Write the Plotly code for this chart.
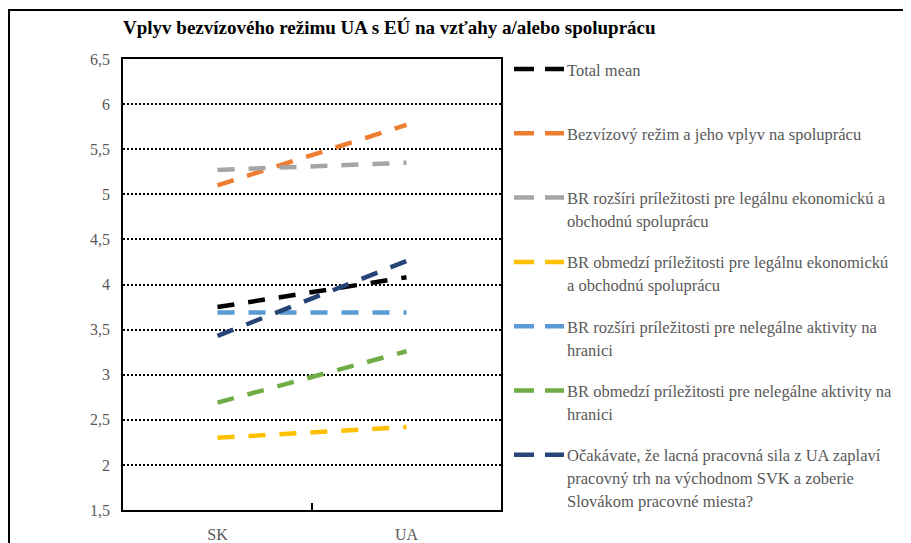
import plotly.graph_objects as go

categories = ["SK", "UA"]
legend_lines = [
    ["Total mean"],
    ["Bezvízový režim a jeho vplyv na spoluprácu"],
    ["BR rozšíri príležitosti pre legálnu ekonomickú a", "obchodnú spoluprácu"],
    ["BR obmedzí príležitosti pre legálnu ekonomickú", "a obchodnú spoluprácu"],
    ["BR rozšíri príležitosti pre nelegálne aktivity na", "hranici"],
    ["BR obmedzí príležitosti pre nelegálne aktivity na", "hranici"],
    ["Očakávate, že lacná pracovná sila z UA zaplaví", "pracovný trh na východnom SVK a zoberie",
     "Slovákom pracovné miesta?"],
]
total_mean = [3.75, 4.08]
bezvizovy = [5.10, 5.77]
rozsiri_legal = [5.27, 5.35]
obmedzi_legal = [2.30, 2.42]
rozsiri_nelegal = [3.69, 3.69]
obmedzi_nelegal = [2.69, 3.26]
lacna_sila = [3.43, 4.26]
series_values = [total_mean, bezvizovy, rozsiri_legal, obmedzi_legal,
                 rozsiri_nelegal, obmedzi_nelegal, lacna_sila]
colors = ["#000000", "#ED7D31", "#A5A5A5", "#FFC000", "#5B9BD5", "#70AD47", "#264478"]
y_ticks = [1.5, 2, 2.5, 3, 3.5, 4, 4.5, 5, 5.5, 6, 6.5]

FONT = "'Liberation Serif', 'Times New Roman', 'DejaVu Serif', serif"
GRAY = "#595959"
DASH = "17px,14px"

# page is drawn with an 8px body margin; work in reference-screen pixels
OFF = 8
W, H = 911 - OFF, 543 - OFF
L, R, T, B = 123, 501, 59, 510          # plot area in reference pixels
pw, ph = R - L, B - T

def px_x(x):
    return (x - L) / pw

def px_y(y):
    return (B - y) / ph

fig = go.Figure()
for lines, vals, col in zip(legend_lines, series_values, colors):
    fig.add_trace(go.Scatter(
        x=categories, y=vals, name=" ".join(lines), mode="lines",
        line=dict(color=col, width=4.5, dash=DASH),
        showlegend=False,
    ))

shapes = []
annotations = []
# outer chart frame
shapes.append(dict(type="rect", xref="paper", yref="paper",
                   x0=px_x(OFF + 1), x1=px_x(960), y0=px_y(600), y1=px_y(10),
                   line=dict(color="black", width=2), layer="below"))

# manual legend
leg_y0 = 69
leg_step = 64.3
line_step = 23
for i, (lines, col) in enumerate(zip(legend_lines, colors)):
    cy = leg_y0 + leg_step * i
    shapes.append(dict(type="line", xref="paper", yref="paper",
                       x0=px_x(514), x1=px_x(564), y0=px_y(cy), y1=px_y(cy),
                       line=dict(color=col, width=4.5, dash="20px,11px")))
    for j, txt in enumerate(lines):
        annotations.append(dict(xref="paper", yref="paper", x=px_x(565),
                                y=px_y(cy + line_step * j + 1),
                                xanchor="left", yanchor="middle", align="left",
                                text=txt, showarrow=False,
                                font=dict(family=FONT, size=16.5, color=GRAY)))

fig.update_layout(
    width=W, height=H, autosize=False,
    margin=dict(l=L - OFF, r=W - (R - OFF), t=T - OFF, b=H - (B - OFF), pad=0, autoexpand=False),
    paper_bgcolor="white", plot_bgcolor="white",
    separators=", ",
    font=dict(family=FONT, size=16, color=GRAY),
    title=dict(text="<b>Vplyv bezvízového režimu UA s EÚ na vzťahy a/alebo spoluprácu</b>",
               x=(L - OFF) / W, xref="container", xanchor="left",
               y=1 - (27 - OFF) / H, yref="container", yanchor="middle",
               font=dict(family=FONT, size=19, color="black")),
    shapes=shapes,
    annotations=annotations,
    xaxis=dict(type="category", range=[-0.5, 1.5], tickson="boundaries",
               ticks="inside", ticklen=7, tickwidth=1.5, tickcolor="black",
               showline=True, linecolor="black", linewidth=1.5, mirror=True,
               showgrid=False, ticklabelstandoff=9, automargin=False,
               tickfont=dict(family=FONT, size=16, color=GRAY)),
    yaxis=dict(range=[1.5, 6.5], tickvals=y_ticks, ticks="",
               showline=True, linecolor="black", linewidth=1.5, mirror=True,
               showgrid=True, gridcolor="black", gridwidth=1.5, griddash="2px,2px",
               zeroline=False, ticklabelstandoff=8, automargin=False,
               tickfont=dict(family=FONT, size=16, color=GRAY)),
)

fig.write_html("out.html")
